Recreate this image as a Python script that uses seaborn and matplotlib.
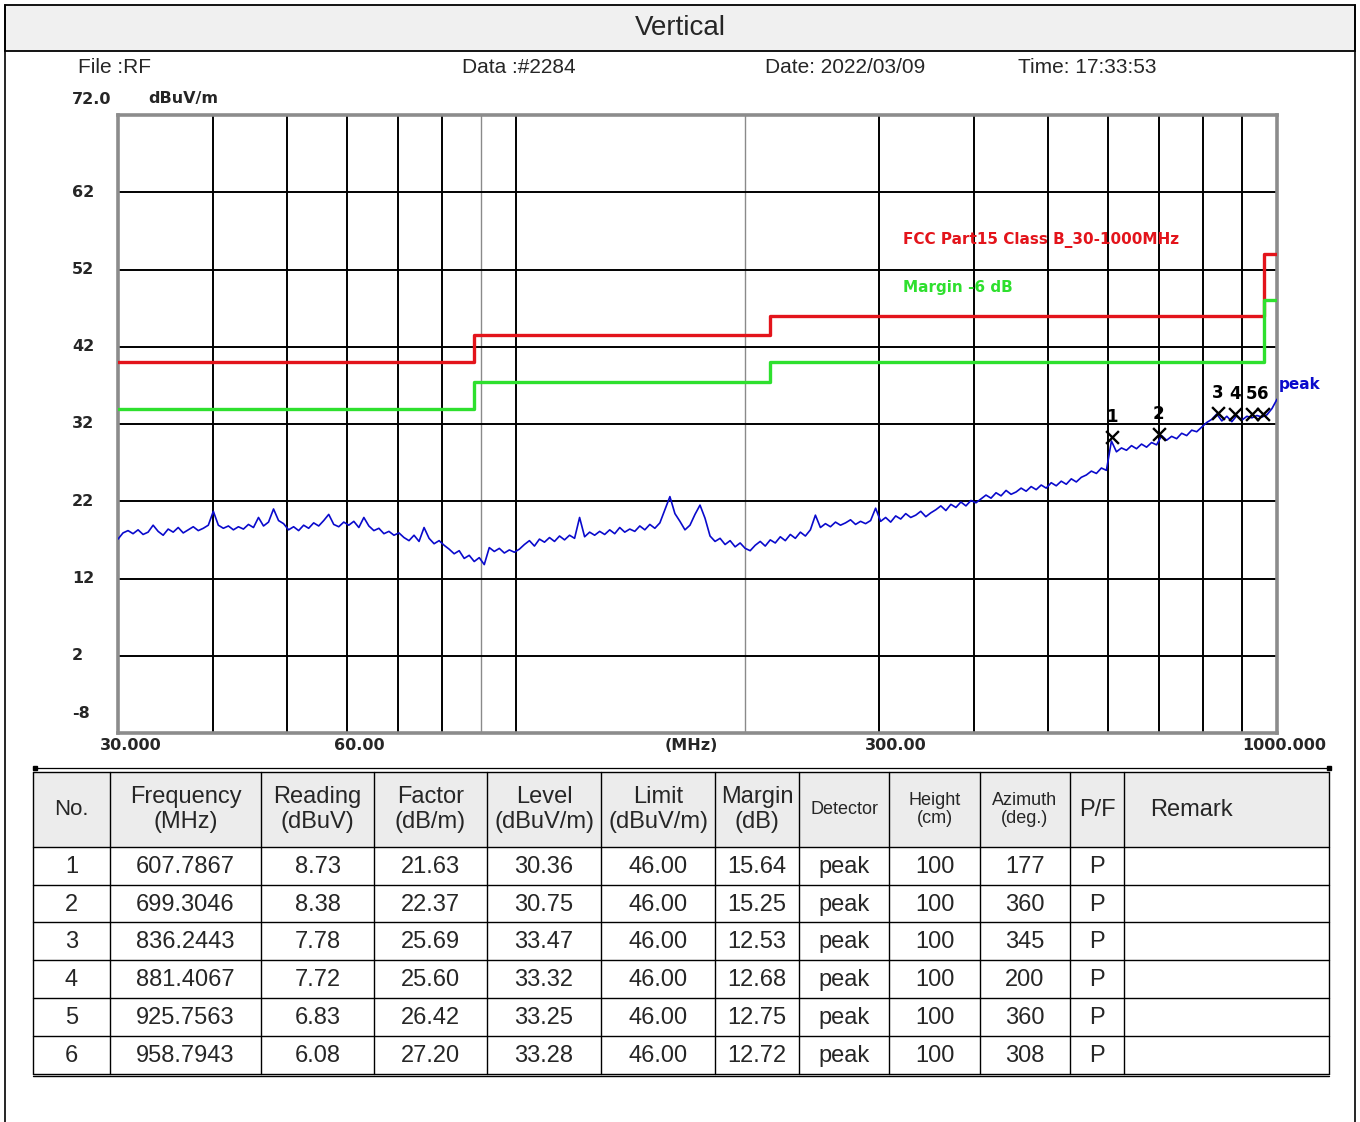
import numpy as np
import matplotlib
matplotlib.use("Agg")
import matplotlib.pyplot as plt
import matplotlib.transforms as mtransforms
import seaborn as sns
from matplotlib.patches import Rectangle
from matplotlib.ticker import NullLocator

sns.set_theme(style="white")
plt.rcParams["font.family"] = ["Liberation Sans", "DejaVu Sans"]

W, H = 1360, 1122

# sweep trace (dBuV/m), 30 -> 1000 MHz
trace_level = [
    17.1, 17.9, 18.2, 17.8, 18.3, 17.7, 18.0, 18.9, 18.1, 17.6,
    18.4, 18.0, 18.6, 17.9, 18.3, 18.7, 18.2, 18.5, 18.9, 20.7,
    18.9, 18.5, 18.8, 18.3, 18.7, 18.4, 19.0, 18.6, 19.9, 18.8,
    19.3, 21.0, 19.5, 19.1,
    18.3, 18.7, 18.2, 18.9, 18.5, 19.2, 18.8, 19.5, 20.3, 19.0, 18.7, 19.3,
    18.9, 19.4, 18.6, 19.9, 18.8, 18.2, 18.5, 17.8, 18.1, 17.6, 17.9,
    17.3, 16.9, 17.6, 16.8, 18.6, 17.2, 16.5, 16.9, 16.3,
    15.8, 15.2, 15.6, 14.6, 15.0, 14.2, 14.7, 13.8,
    16.0, 15.5, 15.9, 15.3, 15.7, 15.4, 15.8,
    16.4, 16.9, 16.2, 17.1, 16.7, 17.3, 16.8, 17.5, 17.0, 17.6,
    17.2, 19.9, 17.4, 18.0, 17.6, 18.1,
    17.7, 18.3, 17.8, 18.6, 18.0, 18.4, 18.1, 18.8, 18.3, 19.0, 18.5, 19.2,
    20.9, 22.6, 20.4, 19.4, 18.3, 18.9, 20.3, 21.5, 19.8,
    17.5, 16.8, 17.2, 16.4, 16.9, 16.1, 16.6, 15.9, 15.6,
    16.3, 16.8, 16.2, 17.0, 16.6, 17.4, 16.9, 17.7, 17.2, 18.0, 17.5, 18.3, 20.2,
    18.6, 19.1, 18.7, 19.3, 18.9, 19.2, 19.6, 19.0, 19.4, 19.1, 19.5,
    21.1,
    19.4, 19.9, 19.3, 20.1, 19.7, 20.4, 19.9, 20.2, 20.7, 20.0, 20.5,
    20.9, 21.4, 20.8, 21.6, 21.2, 21.9, 21.4, 22.1, 21.8,
    22.3, 22.8, 22.4, 23.1, 22.7, 23.4, 22.9, 23.2, 23.7, 23.3,
    23.9, 23.5, 24.1, 23.7, 24.4, 24.0, 24.6, 24.2, 24.9, 24.5, 25.1,
    25.4, 25.9, 25.6, 26.3, 26.0,
    29.8,
    28.4, 28.9, 28.6, 29.2, 28.8, 29.4, 29.0, 29.6, 29.3, 30.5,
    29.9, 30.4, 30.1, 30.8, 30.5, 31.2, 31.0, 31.6, 32.2,
    32.6, 33.3, 32.4, 33.0, 32.3, 33.1, 32.5, 33.0, 32.8, 33.1, 32.9, 33.2,
    34.0, 35.2,
]

# FCC Part15 Class B limit (step edges in MHz)
limit_freq = [30, 88, 216, 960, 1000]
limit_level = [40.0, 43.5, 46.0, 54.0, 54.0]
margin_offset = 6.0

y_ticks = [62, 52, 42, 32, 22, 12, 2]
x_labels_freq = [30, 60, 300, 1000]
x_labels_text = ["30.000", "60.00", "300.00", "1000.000"]

# marker table
marker_no = [1, 2, 3, 4, 5, 6]
marker_freq = [607.7867, 699.3046, 836.2443, 881.4067, 925.7563, 958.7943]
reading = [8.73, 8.38, 7.78, 7.72, 6.83, 6.08]
factor = [21.63, 22.37, 25.69, 25.60, 26.42, 27.20]
marker_level = [30.36, 30.75, 33.47, 33.32, 33.25, 33.28]
limit_at_marker = [46.00, 46.00, 46.00, 46.00, 46.00, 46.00]
margin = [15.64, 15.25, 12.53, 12.68, 12.75, 12.72]
detector = ["peak"] * 6
height_cm = [100, 100, 100, 100, 100, 100]
azimuth = [177, 360, 345, 200, 360, 308]
pass_fail = ["P"] * 6

RED = "#e3141b"
GREEN = "#2ee02e"
BLUE = "#0a0acc"
BOLD = dict(family=["DejaVu Sans"], fontweight="bold")

fig = plt.figure(figsize=(W / 100, H / 100), dpi=100)
fig.patch.set_facecolor("white")

# page overlay in pixel coordinates
pg = fig.add_axes([0, 0, 1, 1], zorder=0)
pg.set_xlim(0, W)
pg.set_ylim(H, 0)
pg.axis("off")

pg.plot([5, 5], [5, H], color="black", lw=1.2)
pg.plot([1355, 1355], [5, H], color="black", lw=1.2)
pg.add_patch(Rectangle((5, 5), 1350, 46, facecolor="#f0f0f0", edgecolor="black", lw=1.3))
pg.text(680, 28, "Vertical", ha="center", va="center", fontsize=20)

pg.text(78, 67, "File :RF", ha="left", va="center", fontsize=15)
pg.text(462, 67, "Data :#2284", ha="left", va="center", fontsize=15)
pg.text(765, 67, "Date: 2022/03/09", ha="left", va="center", fontsize=15)
pg.text(1018, 67, "Time: 17:33:53", ha="left", va="center", fontsize=15)

# main plot
L, R, T, B = 118, 1277, 115, 733
ax = fig.add_axes([L / W, 1 - B / H, (R - L) / W, (B - T) / H], zorder=2)
ax.set_xscale("log")
ax.set_xlim(30, 1000)
ax.set_ylim(-8, 72)
ax.xaxis.set_major_locator(NullLocator())
ax.xaxis.set_minor_locator(NullLocator())
ax.yaxis.set_major_locator(NullLocator())
ax.set_xlabel("")
ax.set_ylabel("")

for f in [40, 50, 60, 70, 80, 90, 100, 200, 300, 400, 500, 600, 700, 800, 900]:
    light = f in (90, 200)
    ax.axvline(f, color="#8a8a8a" if light else "black", lw=1.0 if light else 1.4, zorder=1)
for y in y_ticks:
    ax.axhline(y, color="black", lw=1.4, zorder=1)
for s in ax.spines.values():
    s.set_color("#8c8c8c")
    s.set_linewidth(2.6)

freq = np.geomspace(30, 1000, len(trace_level))
sns.lineplot(x=freq, y=trace_level, estimator=None, sort=False, color=BLUE,
             lw=1.2, ax=ax, zorder=3)

lim = np.array(limit_level)
ax.plot(limit_freq, lim, drawstyle="steps-post", color=RED, lw=2.4, zorder=4)
ax.plot(limit_freq, lim - margin_offset, drawstyle="steps-post", color=GREEN, lw=2.4, zorder=4)

ax.scatter(marker_freq, marker_level, marker="x", color="black", s=85, lw=1.7, zorder=5)
for n, f, lv in zip(marker_no, marker_freq, marker_level):
    ax.annotate(str(n), (f, lv), xytext=(0, 8), textcoords="offset points",
                ha="center", va="bottom", fontsize=12, color="black", **BOLD)

ax.text(903, 240, "FCC Part15 Class B_30-1000MHz", color=RED, fontsize=11, ha="left",
        va="center", transform=pg.transData, zorder=6, **BOLD)
ax.text(903, 287, "Margin -6 dB", color=GREEN, fontsize=11, ha="left", va="center",
        transform=pg.transData, zorder=6, **BOLD)
ax.annotate("peak", (1000, trace_level[-1]), xytext=(1, 5), textcoords="offset points",
            ha="left", va="bottom", color=BLUE, fontsize=11, annotation_clip=False, **BOLD)

# axis labels
ytrans = mtransforms.blended_transform_factory(ax.transAxes, ax.transData)
xl = (72 - L) / (R - L)
for y in y_ticks:
    ax.text(xl, y, str(y), transform=ytrans, ha="left", va="center", fontsize=11.5, **BOLD)
ax.annotate("72.0", (xl, 72), xycoords=ytrans, xytext=(0, 11), textcoords="offset points",
            ha="left", va="center", fontsize=11.5, annotation_clip=False, **BOLD)
ax.annotate("dBuV/m", (xl, 72), xycoords=ytrans, xytext=(55, 12), textcoords="offset points",
            ha="left", va="center", fontsize=11.5, annotation_clip=False, **BOLD)
ax.annotate("-8", (xl, -8), xycoords=ytrans, xytext=(0, 14), textcoords="offset points",
            ha="left", va="center", fontsize=11.5, annotation_clip=False, **BOLD)

xtrans = mtransforms.blended_transform_factory(ax.transData, ax.transAxes)
x_offsets = [9, 9, 12, 5]
for f, t, dx in zip(x_labels_freq, x_labels_text, x_offsets):
    ax.annotate(t, (f, 0), xycoords=xtrans, xytext=(dx, -9), textcoords="offset points",
                ha="center", va="center", fontsize=11.5, annotation_clip=False, **BOLD)
ax.annotate("(MHz)", (170, 0), xycoords=xtrans, xytext=(0, -9), textcoords="offset points",
            ha="center", va="center", fontsize=11.5, annotation_clip=False, **BOLD)

# result table
pg.plot([35, 1329], [768, 768], color="black", lw=0.9)
pg.plot([35, 1329], [768, 768], ls="none", marker="s", ms=3, color="black")

col_edges = [33, 110, 261, 374, 487, 601, 715, 799, 889, 980, 1070, 1124, 1329]
row_edges = [772, 847, 885, 922, 960, 998, 1036, 1074]
pg.add_patch(Rectangle((33, 772), 1296, 75, facecolor="#ececec", edgecolor="none"))
for xe in col_edges:
    pg.plot([xe, xe], [row_edges[0], row_edges[-1]], color="black", lw=1.0)
for ye in row_edges:
    pg.plot([33, 1329], [ye, ye], color="black", lw=1.0)
pg.plot([33, 1329], [row_edges[-1] + 2, row_edges[-1] + 2], color="black", lw=1.0)

headers = ["No.", "Frequency\n(MHz)", "Reading\n(dBuV)", "Factor\n(dB/m)", "Level\n(dBuV/m)",
           "Limit\n(dBuV/m)", "Margin\n(dB)", "Detector", "Height\n(cm)", "Azimuth\n(deg.)",
           "P/F", "Remark"]
head_size = [16, 17, 17, 17, 17, 17, 17, 13, 13, 13, 17, 17]
hy = (row_edges[0] + row_edges[1]) / 2
for i, (h, fs) in enumerate(zip(headers, head_size)):
    cx = (col_edges[i] + col_edges[i + 1]) / 2
    ha = "center"
    if h == "Remark":
        cx, ha = 1150, "left"
    pg.text(cx, hy, h, ha=ha, va="center", fontsize=fs, linespacing=1.15)

for r in range(len(marker_no)):
    cells = [str(marker_no[r]), f"{marker_freq[r]:.4f}", f"{reading[r]:.2f}", f"{factor[r]:.2f}",
             f"{marker_level[r]:.2f}", f"{limit_at_marker[r]:.2f}", f"{margin[r]:.2f}",
             detector[r], str(height_cm[r]), str(azimuth[r]), pass_fail[r], ""]
    cy = (row_edges[r + 1] + row_edges[r + 2]) / 2
    for i, c in enumerate(cells):
        cx = (col_edges[i] + col_edges[i + 1]) / 2
        pg.text(cx, cy + 1, c, ha="center", va="center", fontsize=17)

fig.savefig("out.png", dpi=100)
